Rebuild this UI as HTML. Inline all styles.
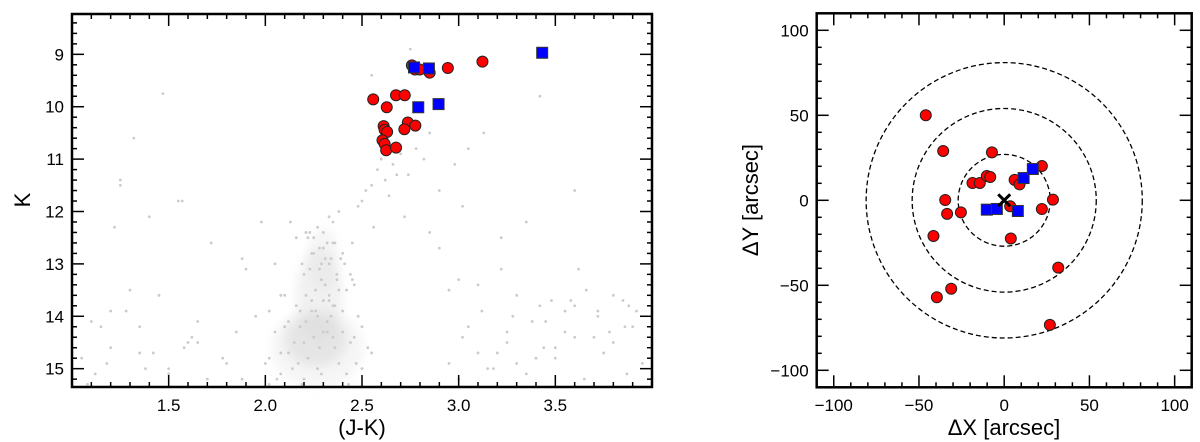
<!DOCTYPE html>
<html><head><meta charset="utf-8">
<style>
html,body{margin:0;padding:0;background:#fff;}
svg{display:block;font-family:"Liberation Sans","DejaVu Sans",sans-serif;}
</style></head>
<body>
<svg id="fig" width="1200" height="442" viewBox="0 0 1200 442" xmlns="http://www.w3.org/2000/svg">
  <defs>
    <filter id="blur" x="-50%" y="-50%" width="200%" height="200%"><feGaussianBlur stdDeviation="5"/></filter>
  </defs>
  <g id="left"></g>
  <g id="right"></g>
</svg>
<script>
// ---------- Left panel data (J-K, K) ----------
const bgJK = [2.25,2.2,2.3,2.28,2.18,2.35,2.22,2.32,2.15,2.27,2.4,2.12,2.38,2.24,2.3,2.2,2.26,2.34,2.19,2.29,2.36,2.23,2.31,2.17,2.28,2.42,2.1,2.25,2.33,2.21,
  2.3,2.27,2.35,2.32,2.38,2.4,2.44,2.46,2.5,2.52,2.55,2.48,2.36,2.29,2.33,2.41,2.45,2.58,2.6,2.62,2.66,2.7,2.74,2.78,2.82,2.56,2.64,2.72,2.9,2.85,
  1.05,1.12,1.2,1.25,1.3,1.35,1.42,1.5,1.58,1.65,1.72,1.8,1.88,1.95,2.02,2.08,1.15,1.28,1.38,1.55,1.62,1.7,1.78,1.9,1.98,1.08,1.18,1.45,1.6,1.85,
  2.95,3.05,3.12,3.2,3.28,3.35,3.42,3.5,3.58,3.65,3.72,3.8,3.88,3.95,3.0,3.1,3.25,3.4,3.55,3.7,3.85,3.15,3.3,3.45,3.6,3.75,3.9,3.02,3.22,3.62,
  1.47,1.32,1.25,1.4,1.57,1.88,2.02,2.1,2.45,2.9,3.02,3.22,3.42,3.6,3.87,2.75,2.8,2.68,3.13,2.98,3.35,3.05,2.6,2.55,2.85,3.0,3.5,3.78,1.22,2.05,
  2.05,2.08,2.12,2.14,2.16,2.44,2.47,2.5,2.53,2.02,2.06,2.1,2.4,2.43,2.48,2.13,2.16,2.39,2.42,2.21,2.24,2.35,2.37,2.19,2.33,2.08,2.46,2.5,2.0,2.55,
  2.22,2.25,2.28,2.31,2.34,2.37,2.24,2.27,2.3,2.33,2.2,2.26,2.32,2.36,2.23,2.29,2.35,2.21,2.38,2.18,
  3.3,3.48,3.66,3.8,3.92,3.38,3.55,3.72,3.86,3.25,3.44,3.6,3.1,3.18,2.95,1.1,1.2,1.35,1.5,1.65];
const bgK = [14.4,14.5,14.3,14.6,14.2,14.4,14.8,14.1,14.5,15.0,14.3,14.7,14.9,13.9,13.7,15.2,13.5,14.0,15.3,13.3,14.6,13.1,12.9,14.9,12.7,15.1,14.2,12.5,13.0,13.6,
  12.4,12.3,12.2,12.6,12.0,12.8,13.2,13.4,11.8,11.6,11.5,11.9,13.8,15.1,12.1,13.0,12.6,11.2,11.0,11.4,11.1,10.9,11.3,10.8,11.0,12.3,11.7,12.1,11.6,12.4,
  14.8,15.1,14.6,11.5,13.5,14.2,14.7,15.0,14.6,14.1,12.6,14.9,15.2,14.0,15.3,13.6,14.2,13.9,15.0,11.8,14.4,15.2,14.8,13.1,12.2,15.3,14.9,13.6,14.5,14.3,
  13.5,14.2,13.9,14.7,14.0,15.1,13.8,14.6,13.7,15.2,13.9,14.5,13.8,14.9,15.2,13.4,14.3,14.8,13.9,14.4,13.7,15.0,14.9,14.1,13.8,14.7,14.2,11.9,12.5,13.1,
  9.75,10.6,11.4,12.1,11.8,12.9,13.9,14.2,13.3,12.7,14.4,13.1,9.8,11.6,15.1,8.9,9.2,11.3,10.5,11.1,12.2,10.8,10.3,9.4,10.5,13.3,14.8,14.3,12.3,13.0,
  14.3,14.7,14.1,15.0,13.8,14.5,14.9,14.2,14.6,14.8,15.2,13.6,13.9,15.3,14.0,12.2,12.5,12.9,13.5,12.4,12.8,12.6,13.2,13.0,13.7,15.1,14.4,15.0,14.9,14.7,
  12.5,12.8,13.1,13.4,12.9,13.3,13.7,14.0,12.7,13.6,13.2,13.9,14.3,12.6,12.4,13.0,13.8,14.1,13.5,13.9,
  13.6,13.7,13.5,13.6,13.9,14.1,14.3,14.0,14.2,14.5,14.6,14.4,14.7,15.0,14.9,14.1,13.9,14.7,15.1,14.5];
const redJK = [2.758,2.774,2.798,2.85,2.944,3.123,2.558,2.676,2.721,2.628,2.612,2.617,2.63,2.737,2.776,2.719,2.606,2.617,2.625,2.676];
const redK  = [9.21,9.29,9.29,9.35,9.26,9.14,9.86,9.78,9.78,10.01,10.37,10.44,10.48,10.30,10.36,10.43,10.64,10.71,10.83,10.78];
const blueJK = [2.769,2.846,2.791,2.896,3.432];
const blueK  = [9.25,9.27,10.01,9.95,8.97];
const xTicksL = [1.5,2.0,2.5,3.0,3.5];
const yTicksL = [9,10,11,12,13,14,15];

// ---------- Right panel data (dX, dY) ----------
const redDX = [-46,-35.8,-7.2,-18.6,-14.3,-10.2,-8.2,6.1,9,22.1,-34.6,-33.5,-25.4,3.5,22.1,28.6,-41.5,3.9,31.7,-31.1,-39.5,26.8];
const redDY = [50,29,28.2,10.2,10.2,14.3,13.7,12,9.4,20.2,0.2,-8,-7.1,-3.5,-5.1,0.4,-21,-22.5,-39.6,-52,-57,-73.3];
const blueDX = [-10.2,-4.3,8,11.4,16.8];
const blueDY = [-5.5,-5.1,-6.3,13.1,18.4];
const radii = [27,54,81];
const ticksR = [-100,-50,0,50,100];

const NS = "http://www.w3.org/2000/svg";
function mk(parent, tag, attrs, text){
  const e = document.createElementNS(NS, tag);
  for (const k in attrs) e.setAttribute(k, attrs[k]);
  if (text !== undefined) e.textContent = text;
  parent.appendChild(e);
  return e;
}

// ---------- Left axes ----------
const L = {x0:72, x1:652, y0:14, y1:387, xmin:1.0, xmax:4.0, ymin:8.23, ymax:15.35};
const lx = v => L.x0 + (v - L.xmin) / (L.xmax - L.xmin) * (L.x1 - L.x0);
const ly = v => L.y0 + (v - L.ymin) / (L.ymax - L.ymin) * (L.y1 - L.y0);
const gl = document.getElementById('left');

const clumpCx = [2.26,2.28,2.27,2.3];
const clumpCy = [14.45,13.6,14.6,12.9];
const clumpRx = [0.16,0.12,0.24,0.08];
const clumpRy = [0.5,0.9,0.75,0.6];
const clumpOp = [0.55,0.35,0.25,0.25];
const cg = mk(gl,'g',{filter:'url(#blur)'});


for (let i=0;i<clumpCx.length;i++){
  const e = mk(cg,'ellipse',{cx:lx(clumpCx[i]),cy:ly(clumpCy[i]),rx:clumpRx[i]*193.3,ry:clumpRy[i]*52.4,fill:'#d8d8d8','fill-opacity':clumpOp[i]});
  
  
}
for (let i=0;i<bgJK.length;i++){
  const c = mk(gl,'circle',{cx:lx(bgJK[i]),cy:ly(bgK[i]),r:1.4,fill:'#cbcbcb'});
  
  
}
for (let i=0;i<redJK.length;i++){
  const c = mk(gl,'circle',{cx:lx(redJK[i]),cy:ly(redK[i]),r:5.5,fill:'#ff0000',stroke:'#222','stroke-width':1});
  
  
}
for (let i=0;i<blueJK.length;i++){
  const s = mk(gl,'rect',{x:lx(blueJK[i])-5.5,y:ly(blueK[i])-5.5,width:11,height:11,fill:'#0000ff',stroke:'#333','stroke-width':1});
  
  
}
for (let v=1.0; v<=4.0001; v+=0.1){
  const major = xTicksL.some(t=>Math.abs(t-v)<1e-6);
  const len = major?12:5;
  mk(gl,'line',{x1:lx(v),x2:lx(v),y1:L.y1,y2:L.y1-len,stroke:'#000','stroke-width':1.5});
  mk(gl,'line',{x1:lx(v),x2:lx(v),y1:L.y0,y2:L.y0+len,stroke:'#000','stroke-width':1.5});
}
for (let v=8.4; v<=15.35; v+=0.2){
  const major = yTicksL.some(t=>Math.abs(t-v)<1e-6);
  const len = major?12:5;
  mk(gl,'line',{x1:L.x0,x2:L.x0+len,y1:ly(v),y2:ly(v),stroke:'#000','stroke-width':1.5});
  mk(gl,'line',{x1:L.x1,x2:L.x1-len,y1:ly(v),y2:ly(v),stroke:'#000','stroke-width':1.5});
}
xTicksL.forEach(t=>{
  const e = mk(gl,'text',{x:lx(t),y:411,'font-size':17,'text-anchor':'middle'},t.toFixed(1));
  
  
});
yTicksL.forEach(t=>{
  const e = mk(gl,'text',{x:L.x0-8,y:ly(t)+6,'font-size':17,'text-anchor':'end'},String(t));
  
  
});
const fl = mk(gl,'rect',{x:L.x0,y:L.y0,width:L.x1-L.x0,height:L.y1-L.y0,fill:'none',stroke:'#000','stroke-width':2.5});


const xl = mk(gl,'text',{x:362,y:435,'font-size':22,'text-anchor':'middle'},'(J-K)');


const yl = mk(gl,'text',{x:30,y:200,'font-size':22,'text-anchor':'middle',transform:'rotate(-90 30 200)'},'K');



// ---------- Right axes ----------
const R = {x0:816.7, x1:1191.7, y0:13.3, y1:387.3, min:-110, max:110};
const rx = v => R.x0 + (v - R.min)/(R.max - R.min)*(R.x1 - R.x0);
const ry = v => R.y1 - (v - R.min)/(R.max - R.min)*(R.y1 - R.y0);
const gr = document.getElementById('right');
radii.forEach(r=>{
  const c = mk(gr,'ellipse',{cx:rx(0),cy:ry(0),rx:rx(r)-rx(0),ry:ry(0)-ry(r),fill:'none',stroke:'#000','stroke-width':1.3,'stroke-dasharray':'5,3'});
  
  
});
for (let i=0;i<redDX.length;i++){
  const c = mk(gr,'circle',{cx:rx(redDX[i]),cy:ry(redDY[i]),r:5.5,fill:'#ff0000',stroke:'#222','stroke-width':1});
  
  
}
for (let i=0;i<blueDX.length;i++){
  const s = mk(gr,'rect',{x:rx(blueDX[i])-5.5,y:ry(blueDY[i])-5.5,width:11,height:11,fill:'#0000ff',stroke:'#333','stroke-width':1});
  
  
}
const cx0 = rx(0), cy0 = ry(0);
const cross = mk(gr,'path',{d:`M${cx0-6} ${cy0-6}L${cx0+6} ${cy0+6}M${cx0-6} ${cy0+6}L${cx0+6} ${cy0-6}`,stroke:'#000','stroke-width':3});


for (let v=-100; v<=100; v+=10){
  const major = v%50===0;
  const len = major?12:5;
  mk(gr,'line',{x1:rx(v),x2:rx(v),y1:R.y1,y2:R.y1-len,stroke:'#000','stroke-width':1.5});
  mk(gr,'line',{x1:rx(v),x2:rx(v),y1:R.y0,y2:R.y0+len,stroke:'#000','stroke-width':1.5});
  mk(gr,'line',{x1:R.x0,x2:R.x0+len,y1:ry(v),y2:ry(v),stroke:'#000','stroke-width':1.5});
  mk(gr,'line',{x1:R.x1,x2:R.x1-len,y1:ry(v),y2:ry(v),stroke:'#000','stroke-width':1.5});
}
ticksR.forEach(t=>{
  const lab = t<0 ? '\u2212'+Math.abs(t) : String(t);
  const a = mk(gr,'text',{x:rx(t),y:411,'font-size':17,'text-anchor':'middle'},lab);
  
  
  const b = mk(gr,'text',{x:R.x0-8,y:ry(t)+6,'font-size':17,'text-anchor':'end'},lab);
  
  
});
const fr = mk(gr,'rect',{x:R.x0,y:R.y0,width:R.x1-R.x0,height:R.y1-R.y0,fill:'none',stroke:'#000','stroke-width':2.5});


const xr = mk(gr,'text',{x:1004,y:435,'font-size':22,'text-anchor':'middle'},'\u0394X [arcsec]');


const yr = mk(gr,'text',{x:758,y:200,'font-size':22,'text-anchor':'middle',transform:'rotate(-90 758 200)'},'\u0394Y [arcsec]');


</script>
</body></html>
